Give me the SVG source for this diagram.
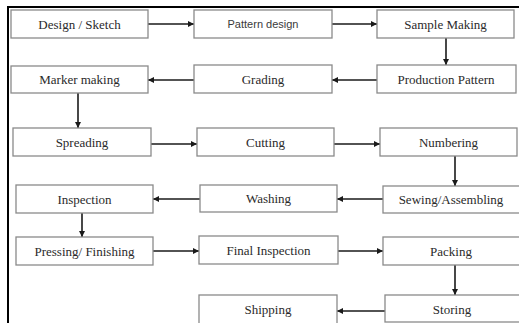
<svg xmlns="http://www.w3.org/2000/svg" width="519" height="323" viewBox="0 0 519 323">
<style>
.box{fill:#fff;stroke:#8a8a8a;stroke-width:1.3}
.t{font-family:"Liberation Serif","Times New Roman",serif;font-size:13px;fill:#2a2a2a;text-anchor:middle;dominant-baseline:central}
.ts{font-family:"Liberation Sans",Arial,sans-serif;font-size:11px;fill:#3a3a3a;text-anchor:middle;dominant-baseline:central}
.c{stroke:#1a1a1a;stroke-width:1.6;fill:none;marker-end:url(#ah)}
.frame{stroke:#000;stroke-width:2;fill:none}
</style>
<defs>
<marker id="ah" markerWidth="7" markerHeight="7" refX="6" refY="3" orient="auto" markerUnits="userSpaceOnUse">
<path d="M0,0 L6,3 L0,6 z" fill="#1a1a1a"/>
</marker>
</defs>
<rect width="519" height="323" fill="#fff"/>
<path class="frame" d="M8,323 L8,7 L519,7"/>
<g id="connectors">
<line class="c" x1="148" y1="24" x2="194" y2="24"/>
<line class="c" x1="332" y1="24" x2="377" y2="24"/>
<line class="c" x1="446" y1="38" x2="446" y2="65"/>
<line class="c" x1="377" y1="80" x2="332" y2="80"/>
<line class="c" x1="194" y1="80" x2="148" y2="80"/>
<line class="c" x1="78" y1="93" x2="78" y2="128"/>
<line class="c" x1="151" y1="144" x2="197" y2="144"/>
<line class="c" x1="334" y1="144" x2="380" y2="144"/>
<line class="c" x1="455" y1="156" x2="455" y2="186"/>
<line class="c" x1="383" y1="199" x2="337" y2="199"/>
<line class="c" x1="200" y1="199" x2="153" y2="199"/>
<line class="c" x1="82" y1="213" x2="82" y2="237"/>
<line class="c" x1="153" y1="251" x2="199" y2="251"/>
<line class="c" x1="338" y1="251" x2="383" y2="251"/>
<line class="c" x1="455" y1="265" x2="455" y2="295"/>
<line class="c" x1="385" y1="311" x2="337" y2="311"/>
</g>
<g id="design"><rect class="box" x="11" y="10" width="137" height="28"/><text class="t" x="79.5" y="24">Design / Sketch</text></g>
<g id="pattern"><rect class="box" x="194" y="10" width="138" height="28"/><text class="ts" x="263" y="24">Pattern design</text></g>
<g id="sample"><rect class="box" x="377" y="10" width="137" height="28"/><text class="t" x="445.5" y="24">Sample Making</text></g>
<g id="marker"><rect class="box" x="11" y="66" width="137" height="27"/><text class="t" x="79.5" y="79.5">Marker making</text></g>
<g id="grading"><rect class="box" x="194" y="65" width="138" height="28"/><text class="t" x="263" y="79">Grading</text></g>
<g id="production"><rect class="box" x="377" y="65" width="139" height="28"/><text class="t" x="446" y="79.5">Production Pattern</text></g>
<g id="spreading"><rect class="box" x="13" y="128" width="138" height="28"/><text class="t" x="82" y="142">Spreading</text></g>
<g id="cutting"><rect class="box" x="197" y="128" width="137" height="28"/><text class="t" x="265.5" y="142">Cutting</text></g>
<g id="numbering"><rect class="box" x="380" y="128" width="137" height="28"/><text class="t" x="448.5" y="142">Numbering</text></g>
<g id="inspection"><rect class="box" x="16" y="185" width="137" height="28"/><text class="t" x="84.5" y="199">Inspection</text></g>
<g id="washing"><rect class="box" x="200" y="185" width="137" height="27"/><text class="t" x="268.5" y="198">Washing</text></g>
<g id="sewing"><rect class="box" x="383" y="186" width="140" height="27"/><text class="t" x="451" y="199.5">Sewing/Assembling</text></g>
<g id="pressing"><rect class="box" x="16" y="237" width="137" height="28"/><text class="t" x="84.5" y="251">Pressing/ Finishing</text></g>
<g id="final"><rect class="box" x="199" y="236" width="139" height="28"/><text class="t" x="268.5" y="250">Final Inspection</text></g>
<g id="packing"><rect class="box" x="383" y="237" width="140" height="28"/><text class="t" x="451" y="251">Packing</text></g>
<g id="shipping"><rect class="box" x="199" y="295" width="138" height="30"/><text class="t" x="268" y="309">Shipping</text></g>
<g id="storing"><rect class="box" x="385" y="295" width="140" height="27"/><text class="t" x="452" y="309">Storing</text></g>
</svg>
